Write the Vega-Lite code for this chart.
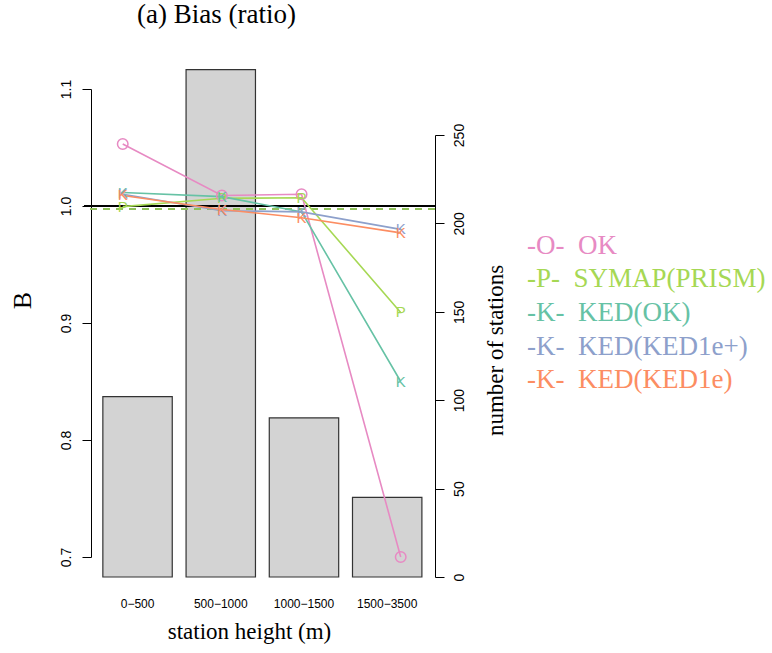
{
  "$schema": "https://vega.github.io/schema/vega-lite/v6.json",
  "width": 351,
  "height": 517,
  "autosize": {"type": "none"},
  "padding": {"left": 84, "top": 60, "right": 337, "bottom": 76},
  "background": "white",
  "config": {"view": {"stroke": null}, "font": "Liberation Sans"},
  "title": {"text": "(a) Bias (ratio)", "font": "Liberation Serif", "fontSize": 27, "fontWeight": "normal", "color": "black", "anchor": "start", "frame": "group", "dx": 53, "offset": 10, "baseline": "alphabetic"},
  "datasets": {
    "bars": [
      {"band": "0−500", "n": 102},
      {"band": "500−1000", "n": 287},
      {"band": "1000−1500", "n": 90},
      {"band": "1500−3500", "n": 45}
    ],
    "lines": [
      {"method": "OK", "x": 1, "B": 1.053},
      {"method": "OK", "x": 2.07, "B": 1.009},
      {"method": "OK", "x": 2.93, "B": 1.010},
      {"method": "OK", "x": 4, "B": 0.700},
      {"method": "SYMAP(PRISM)", "x": 1, "B": 0.9995},
      {"method": "SYMAP(PRISM)", "x": 2.07, "B": 1.0066},
      {"method": "SYMAP(PRISM)", "x": 2.93, "B": 1.007},
      {"method": "SYMAP(PRISM)", "x": 4, "B": 0.909},
      {"method": "KED(OK)", "x": 1, "B": 1.0115},
      {"method": "KED(OK)", "x": 2.07, "B": 1.008},
      {"method": "KED(OK)", "x": 2.93, "B": 0.995},
      {"method": "KED(OK)", "x": 4, "B": 0.850},
      {"method": "KED(KED1e+)", "x": 1, "B": 1.010},
      {"method": "KED(KED1e+)", "x": 2.07, "B": 0.996},
      {"method": "KED(KED1e+)", "x": 2.93, "B": 0.995},
      {"method": "KED(KED1e+)", "x": 4, "B": 0.980},
      {"method": "KED(KED1e)", "x": 1, "B": 1.009},
      {"method": "KED(KED1e)", "x": 2.07, "B": 0.997},
      {"method": "KED(KED1e)", "x": 2.93, "B": 0.990},
      {"method": "KED(KED1e)", "x": 4, "B": 0.977}
    ]
  },
  "layer": [
    {
      "data": {"name": "bars"},
      "mark": {"type": "bar", "fill": "#d3d3d3", "stroke": "#333333", "strokeWidth": 1.2},
      "encoding": {
        "x": {
          "field": "band", "type": "nominal", "sort": null,
          "scale": {"paddingInner": 0.166, "paddingOuter": 0.192, "align": 0.59},
          "axis": {"orient": "bottom", "domain": false, "ticks": false, "labelAngle": 0, "labelFont": "Liberation Sans", "labelFontSize": 12, "labelColor": "black", "labelPadding": 21,
                   "title": "station height (m)", "titleFont": "Liberation Serif", "titleFontSize": 23, "titleFontWeight": "normal", "titleColor": "black", "titleX": 165, "titleY": 61, "titleAlign": "center", "titleBaseline": "alphabetic"}
        },
        "y": {
          "field": "n", "type": "quantitative",
          "scale": {"domain": [0, 250], "range": [517, 75], "nice": false, "zero": true},
          "axis": {"orient": "right", "values": [0, 50, 100, 150, 200, 250], "grid": false, "tickSize": 9, "tickColor": "black", "domainColor": "black", "labelAngle": -90, "labelAlign": "center", "labelBaseline": "top", "labelPadding": 8, "labelFont": "Liberation Sans", "labelFontSize": 14, "labelColor": "black",
                   "title": "number of stations", "titleFont": "Liberation Serif", "titleFontSize": 23, "titleFontWeight": "normal", "titleColor": "black", "titleAngle": -90, "titleX": 60, "titleY": 290, "titleAlign": "center", "titleBaseline": "middle"}
        }
      }
    },
    {
      "data": {"name": "lines"},
      "layer": [
        {
          "mark": {"type": "rule", "color": "black", "strokeWidth": 1.3},
          "encoding": {"y": {"datum": 1.0, "type": "quantitative", "scale": {"domain": [0.7, 1.1], "range": [497, 29], "nice": false, "zero": false}}}
        },
        {
          "mark": {"type": "rule", "color": "#8fc15a", "strokeWidth": 2, "strokeDash": [7, 6]},
          "encoding": {"y": {"datum": 0.9974, "type": "quantitative", "scale": {"domain": [0.7, 1.1], "range": [497, 29], "nice": false, "zero": false}}}
        },
        {
          "mark": {"type": "line", "strokeWidth": 1.6},
          "encoding": {
            "x": {"field": "x", "type": "quantitative", "scale": {"domain": [0.582, 4.37], "nice": false, "zero": false}, "axis": null},
            "y": {"field": "B", "type": "quantitative", "scale": {"domain": [0.7, 1.1], "range": [497, 29], "nice": false, "zero": false},
                  "axis": {"orient": "left", "offset": -7, "values": [0.7, 0.8, 0.9, 1.0, 1.1], "format": ".1f", "grid": false, "tickSize": 9, "tickColor": "black", "domainColor": "black", "labelAngle": -90, "labelAlign": "center", "labelBaseline": "bottom", "labelPadding": 9, "labelFont": "Liberation Sans", "labelFontSize": 14, "labelColor": "black",
                           "title": "B", "titleFont": "Liberation Serif", "titleFontSize": 26, "titleFontWeight": "normal", "titleColor": "black", "titleAngle": -90, "titleX": -69, "titleY": 240, "titleAlign": "center", "titleBaseline": "middle"}},
            "color": {"field": "method", "type": "nominal",
                      "scale": {"domain": ["OK", "SYMAP(PRISM)", "KED(OK)", "KED(KED1e+)", "KED(KED1e)"], "range": ["#e78ac3", "#a6d854", "#66c2a5", "#8da0cb", "#fc8d62"]},
                      "legend": {"orient": "none", "legendX": 416, "legendY": 172, "title": null, "symbolSize": 0, "symbolOpacity": 0, "symbolStrokeWidth": 0, "labelOffset": 0, "labelFont": "Liberation Serif", "labelFontSize": 27, "labelLimit": 400, "rowPadding": 5.7,
                                 "labelExpr": "{'OK': '-O-\u00a0\u00a0OK', 'SYMAP(PRISM)': '-P-\u00a0\u00a0SYMAP(PRISM)', 'KED(OK)': '-K-\u00a0\u00a0KED(OK)', 'KED(KED1e+)': '-K-\u00a0\u00a0KED(KED1e+)', 'KED(KED1e)': '-K-\u00a0\u00a0KED(KED1e)'}[datum.label]",
                                 "encode": {"labels": {"update": {"fill": {"scale": "color", "field": "value"}}}}}}
          }
        },
        {
          "transform": [{"filter": "datum.method === 'OK'"}],
          "mark": {"type": "point", "shape": "circle", "filled": false, "size": 110, "strokeWidth": 1.5, "opacity": 1},
          "encoding": {
            "x": {"field": "x", "type": "quantitative", "scale": {"domain": [0.582, 4.37], "nice": false, "zero": false}, "axis": null},
            "y": {"field": "B", "type": "quantitative", "scale": {"domain": [0.7, 1.1], "range": [497, 29], "nice": false, "zero": false}},
            "color": {"field": "method", "type": "nominal"}
          }
        },
        {
          "transform": [{"filter": "datum.method === 'SYMAP(PRISM)'"}],
          "mark": {"type": "text", "text": "P", "font": "Liberation Sans", "fontSize": 15, "align": "center", "baseline": "middle"},
          "encoding": {
            "x": {"field": "x", "type": "quantitative", "scale": {"domain": [0.582, 4.37], "nice": false, "zero": false}, "axis": null},
            "y": {"field": "B", "type": "quantitative", "scale": {"domain": [0.7, 1.1], "range": [497, 29], "nice": false, "zero": false}},
            "color": {"field": "method", "type": "nominal"}
          }
        },
        {
          "transform": [{"filter": "indexof(datum.method, 'KED') === 0"}],
          "mark": {"type": "text", "text": "K", "font": "Liberation Sans", "fontSize": 15, "align": "center", "baseline": "middle"},
          "encoding": {
            "x": {"field": "x", "type": "quantitative", "scale": {"domain": [0.582, 4.37], "nice": false, "zero": false}, "axis": null},
            "y": {"field": "B", "type": "quantitative", "scale": {"domain": [0.7, 1.1], "range": [497, 29], "nice": false, "zero": false}},
            "color": {"field": "method", "type": "nominal"}
          }
        }
      ]
    }
  ],
  "resolve": {"scale": {"x": "independent", "y": "independent"}}
}
